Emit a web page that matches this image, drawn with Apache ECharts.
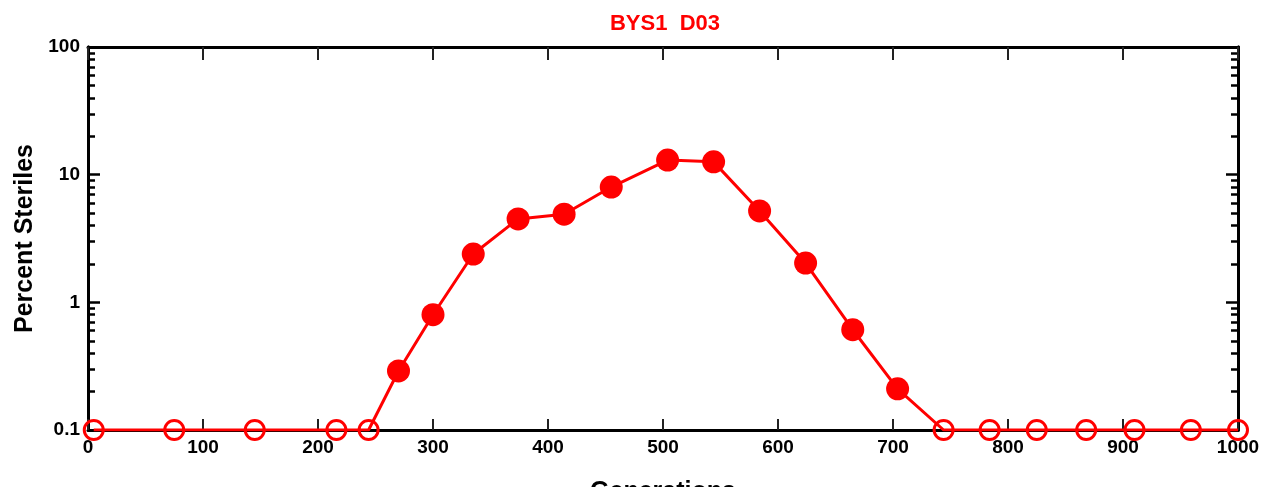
<!DOCTYPE html>
<html>
<head>
<meta charset="utf-8">
<script src="https://cdn.jsdelivr.net/npm/echarts@6/dist/echarts.min.js"></script>
<style>html,body{margin:0;padding:0;background:#fff}#c{width:1263px;height:487px}</style>
</head>
<body>
<div id="c"></div>
<script>
// Data (generation, percent steriles; zeros plotted at the 0.1 floor as open circles)
const generations = [5, 75, 145, 216, 244, 270, 300, 335, 374, 414, 455, 504, 544, 584, 624, 665, 704, 744, 784, 825, 868, 910, 959, 1000];
const percentSteriles = [0, 0, 0, 0, 0, 0.29, 0.8, 2.39, 4.5, 4.9, 8.0, 13.0, 12.6, 5.2, 2.03, 0.61, 0.21, 0, 0, 0, 0, 0, 0, 0];
const xTicks = [0, 100, 200, 300, 400, 500, 600, 700, 800, 900, 1000];
const yMajorTicks = [0.1, 1, 10, 100];
const yMinorTicks = [0.2, 0.3, 0.4, 0.5, 0.6, 0.7, 0.8, 0.9, 2, 3, 4, 5, 6, 7, 8, 9, 20, 30, 40, 50, 60, 70, 80, 90];
const floorValue = 0.1;

const RED = '#ff0000';
const FONT = '"Liberation Sans", Arial, sans-serif';

const seriesData = generations.map((g, i) => {
  const v = percentSteriles[i];
  const isZero = v <= 0;
  return {
    value: [g, isZero ? floorValue : v],
    symbol: 'circle',
    symbolSize: isZero ? 19 : 23,
    itemStyle: isZero
      ? { color: 'rgba(0,0,0,0)', borderColor: RED, borderWidth: 3 }
      : { color: RED, borderWidth: 0 }
  };
});

function yAxisBase(pos, ticks, len, showLabel) {
  return {
    type: 'log', logBase: 10, min: 0.1, max: 100, position: pos,
    axisLine: { show: true, lineStyle: { color: '#000', width: 3 } },
    axisTick: { show: true, inside: true, length: len, customValues: ticks, lineStyle: { color: '#000', width: 2.5 } },
    axisLabel: showLabel ? { show: true, customValues: yMajorTicks, color: '#000', fontFamily: FONT, fontWeight: 'bold', fontSize: 19, margin: 8,
      formatter: v => String(v) } : { show: false },
    splitLine: { show: false }
  };
}

const chart = echarts.init(document.getElementById('c'), null, { renderer: 'canvas' });
chart.setOption({
  animation: false,
  backgroundColor: '#fff',
  title: {
    text: 'BYS1  D03', left: 660, top: 8, textAlign: 'center',
    textStyle: { color: RED, fontFamily: FONT, fontWeight: 'bold', fontSize: 22 }
  },
  grid: { left: 88, right: 25, top: 47, bottom: 57, containLabel: false, outerBoundsMode: 'none' },
  xAxis: [
    {
      type: 'value', min: 0, max: 1000, interval: 100, position: 'bottom',
      name: 'Generations', nameLocation: 'middle', nameGap: 50,
      nameTextStyle: { color: '#000', fontFamily: FONT, fontWeight: 'bold', fontSize: 25 },
      axisLine: { show: true, onZero: false, lineStyle: { color: '#000', width: 3 } },
      axisTick: { show: true, inside: true, length: 11, customValues: xTicks, lineStyle: { color: '#222', width: 2 } },
      axisLabel: { color: '#000', fontFamily: FONT, fontWeight: 'bold', fontSize: 19, margin: 8, customValues: xTicks,
        formatter: v => String(v) },
      splitLine: { show: false }
    },
    {
      type: 'value', min: 0, max: 1000, interval: 100, position: 'top',
      axisLine: { show: true, onZero: false, lineStyle: { color: '#000', width: 3 } },
      axisTick: { show: true, inside: true, length: 13, customValues: xTicks, lineStyle: { color: '#222', width: 2 } },
      axisLabel: { show: false },
      splitLine: { show: false }
    }
  ],
  yAxis: [
    Object.assign(yAxisBase('left', yMajorTicks, 12, true), {
      name: 'Percent Steriles', nameLocation: 'middle', nameGap: 49,
      nameTextStyle: { color: '#000', fontFamily: FONT, fontWeight: 'bold', fontSize: 25 }
    }),
    yAxisBase('left', yMinorTicks, 7, false),
    yAxisBase('right', yMajorTicks, 12, false),
    yAxisBase('right', yMinorTicks, 7, false)
  ],
  series: [{
    type: 'line',
    xAxisIndex: 0, yAxisIndex: 0,
    data: seriesData,
    lineStyle: { color: RED, width: 3 },
    itemStyle: { color: RED },
    z: 3
  }]
});
</script>
</body>
</html>
